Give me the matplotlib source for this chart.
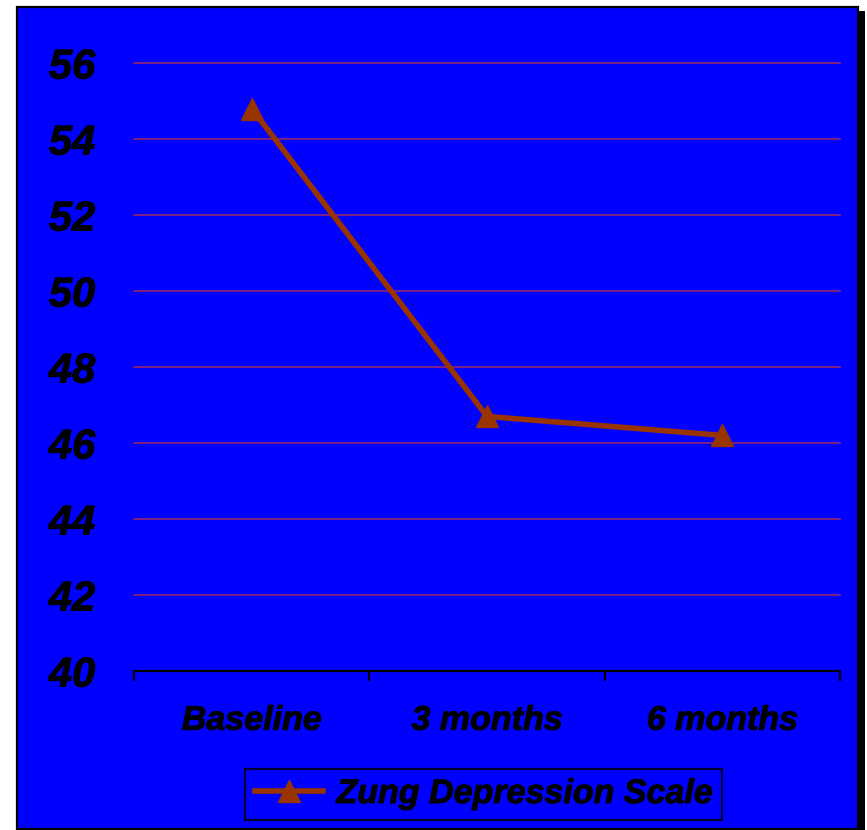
import matplotlib
matplotlib.use("Agg")
import matplotlib.pyplot as plt
from matplotlib.patches import Rectangle
import matplotlib.patheffects as pe

# Zung Depression Scale scores over follow-up
categories = ["Baseline", "3 months", "6 months"]
zung_scores = [54.8, 46.7, 46.2]
y_ticks = [40, 42, 44, 46, 48, 50, 52, 54, 56]
series_label = "Zung Depression Scale"

W, H = 867, 830
DPI = 100
fig = plt.figure(figsize=(W / DPI, H / DPI), dpi=DPI, facecolor="white")

def fx(px):
    return px / W

def fy(py):
    return 1 - py / H

# Drop shadow and blue panel with black border
shadow = Rectangle((fx(21), fy(834)), fx(865) - fx(21), fy(11) - fy(834),
                   transform=fig.transFigure, facecolor="black", edgecolor="none", zorder=-3)
panel = Rectangle((fx(17), fy(829)), fx(858) - fx(17), fy(7) - fy(829),
                  transform=fig.transFigure, facecolor="#0000FF", edgecolor="black",
                  linewidth=1.6, zorder=-2)
fig.add_artist(shadow)
fig.add_artist(panel)

ax = fig.add_axes([fx(134), fy(671), fx(840) - fx(134), fy(63) - fy(671)])
ax.set_facecolor("none")

font = dict(family="Liberation Sans", weight="bold", style="italic")
heavy = [pe.withStroke(linewidth=0.7, foreground="black")]

x = [i + 0.5 for i in range(len(categories))]
line_color = "#993300"
ax.plot(x, zung_scores, color=line_color, linewidth=4.0, marker="^",
        markersize=16, markerfacecolor=line_color, markeredgecolor=line_color,
        label=series_label, zorder=3, clip_on=False)

ax.set_xlim(0, len(categories))
ax.set_ylim(y_ticks[0], y_ticks[-1])

# Horizontal gridlines
for v in y_ticks[1:]:
    ax.axhline(v, color="#A02A60", linewidth=1.1, zorder=1, clip_on=False)

# Spines
for side in ("left", "right", "top"):
    ax.spines[side].set_visible(False)
ax.spines["bottom"].set_color("black")
ax.spines["bottom"].set_linewidth(1.6)

# X ticks: marks at category boundaries, labels at centres
ax.set_xticks(range(len(categories) + 1))
ax.set_xticklabels([])
ax.set_xticks(x, minor=True)
ax.set_xticklabels(categories, minor=True, fontsize=24.5, **font)
ax.tick_params(axis="x", which="major", direction="out", length=7.5, width=1.6, color="black")
ax.tick_params(axis="x", which="minor", length=0, pad=25)

ax.set_yticks(y_ticks)
ax.set_yticklabels([str(v) for v in y_ticks], fontsize=30, **font)
ax.tick_params(axis="y", length=0, pad=28)

for lbl in ax.get_xticklabels(minor=True) + ax.get_yticklabels():
    lbl.set_path_effects(heavy)

leg = fig.legend(loc="center", bbox_to_anchor=(fx(483.5), fy(794.5)),
                 prop=dict(size=24.5, **font), frameon=True, fancybox=False,
                 handlelength=2.0, handletextpad=0.4, borderpad=0.3,
                 markerscale=0.95)
for t in leg.get_texts():
    t.set_path_effects(heavy)
frame = leg.get_frame()
frame.set_facecolor("none")
frame.set_edgecolor("black")
frame.set_linewidth(1.6)

fig.savefig("out.png", dpi=DPI, facecolor="white")
